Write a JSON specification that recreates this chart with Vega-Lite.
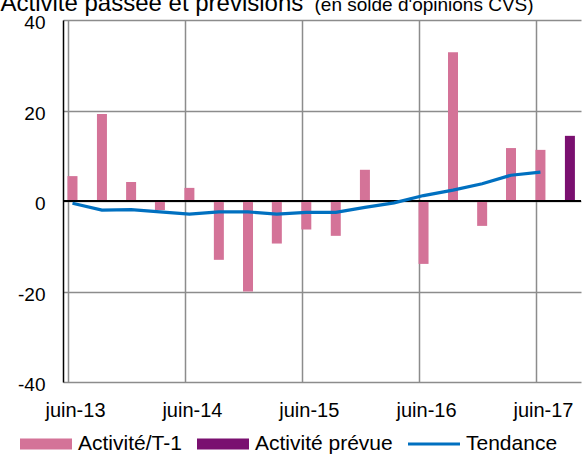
{
  "$schema": "https://vega.github.io/schema/vega-lite/v6.json",
  "width": 518,
  "height": 362,
  "autosize": "none",
  "padding": {"left": 63, "top": 20, "right": 5, "bottom": 74},
  "background": "white",
  "config": {"view": {"stroke": null}, "font": "Liberation Sans"},
  "data": {"values": [
    {"date": "2013-06-15", "serie": "Activité/T-1", "value": 5.5},
    {"date": "2013-09-15", "serie": "Activité/T-1", "value": 19.2},
    {"date": "2013-12-15", "serie": "Activité/T-1", "value": 4.2},
    {"date": "2014-03-15", "serie": "Activité/T-1", "value": -2.0},
    {"date": "2014-06-15", "serie": "Activité/T-1", "value": 2.9},
    {"date": "2014-09-15", "serie": "Activité/T-1", "value": -13.0},
    {"date": "2014-12-15", "serie": "Activité/T-1", "value": -20.0},
    {"date": "2015-03-15", "serie": "Activité/T-1", "value": -9.4},
    {"date": "2015-06-15", "serie": "Activité/T-1", "value": -6.3},
    {"date": "2015-09-15", "serie": "Activité/T-1", "value": -7.7},
    {"date": "2015-12-15", "serie": "Activité/T-1", "value": 6.9},
    {"date": "2016-03-15", "serie": "Activité/T-1", "value": 0.0},
    {"date": "2016-06-15", "serie": "Activité/T-1", "value": -13.9},
    {"date": "2016-09-15", "serie": "Activité/T-1", "value": 32.9},
    {"date": "2016-12-15", "serie": "Activité/T-1", "value": -5.5},
    {"date": "2017-03-15", "serie": "Activité/T-1", "value": 11.7},
    {"date": "2017-06-15", "serie": "Activité/T-1", "value": 11.3},
    {"date": "2017-09-15", "serie": "Activité prévue", "value": 14.4},
    {"date": "2013-06-15", "serie": "Tendance", "value": -0.5},
    {"date": "2013-09-15", "serie": "Tendance", "value": -2.0},
    {"date": "2013-12-15", "serie": "Tendance", "value": -1.9},
    {"date": "2014-03-15", "serie": "Tendance", "value": -2.4},
    {"date": "2014-06-15", "serie": "Tendance", "value": -2.9},
    {"date": "2014-09-15", "serie": "Tendance", "value": -2.4},
    {"date": "2014-12-15", "serie": "Tendance", "value": -2.4},
    {"date": "2015-03-15", "serie": "Tendance", "value": -2.9},
    {"date": "2015-06-15", "serie": "Tendance", "value": -2.5},
    {"date": "2015-09-15", "serie": "Tendance", "value": -2.5},
    {"date": "2015-12-15", "serie": "Tendance", "value": -1.4},
    {"date": "2016-03-15", "serie": "Tendance", "value": -0.4},
    {"date": "2016-06-15", "serie": "Tendance", "value": 1.2},
    {"date": "2016-09-15", "serie": "Tendance", "value": 2.4},
    {"date": "2016-12-15", "serie": "Tendance", "value": 3.8},
    {"date": "2017-03-15", "serie": "Tendance", "value": 5.7},
    {"date": "2017-06-15", "serie": "Tendance", "value": 6.4}
  ]},
  "encoding": {
    "x": {
      "field": "date", "type": "temporal",
      "scale": {"type": "utc", "domain": [{"year": 2013, "month": 6, "date": 1, "utc": true}, {"year": 2017, "month": 10, "date": 4, "utc": true}]},
      "axis": {
        "values": [
          {"year": 2013, "month": 6, "date": 1, "utc": true},
          {"year": 2014, "month": 6, "date": 1, "utc": true},
          {"year": 2015, "month": 6, "date": 1, "utc": true},
          {"year": 2016, "month": 6, "date": 1, "utc": true},
          {"year": 2017, "month": 6, "date": 1, "utc": true}
        ],
        "labelExpr": "'juin-' + utcFormat(datum.value, '%y')",
        "grid": true, "gridColor": "#8c8c8c", "gridWidth": 1.5,
        "domain": false, "ticks": false, "tickSize": 0,
        "labelFont": "Liberation Sans", "labelFontSize": 20, "labelColor": "#000",
        "labelPadding": 18, "labelOffset": 7, "labelFlush": false, "labelOverlap": false, "labelBound": false,
        "title": "(en solde d'opinions CVS)",
        "titleFont": "Liberation Sans", "titleFontSize": 19, "titleFontWeight": "normal", "titleColor": "#000",
        "titleAngle": 0, "titleAlign": "left", "titleBaseline": "alphabetic",
        "titleX": 251, "titleY": -372
      }
    },
    "y": {
      "field": "value", "type": "quantitative",
      "scale": {"domain": [-40, 40], "nice": false, "zero": false},
      "axis": {
        "values": [-40, -20, 0, 20, 40],
        "labelExpr": "datum.value < 0 ? '-' + abs(datum.value) : '' + datum.value",
        "grid": true, "gridColor": "#8c8c8c", "gridWidth": 1.5,
        "domain": true, "domainColor": "#000", "domainWidth": 1.5,
        "ticks": false, "tickSize": 0,
        "labelFont": "Liberation Sans", "labelFontSize": 19, "labelColor": "#000",
        "labelPadding": 18, "labelOffset": 2.5,
        "title": "Activité passée et prévisions",
        "titleFont": "Liberation Sans", "titleFontSize": 24, "titleFontWeight": "normal", "titleColor": "#000",
        "titleAngle": 0, "titleAlign": "left", "titleBaseline": "alphabetic",
        "titleX": -63, "titleY": -10
      }
    }
  },
  "layer": [
    {
      "transform": [{"filter": "datum.serie !== 'Tendance'"}],
      "mark": {"type": "bar", "size": 10},
      "encoding": {
        "color": {
          "field": "serie", "type": "nominal",
          "scale": {"domain": ["Activité/T-1", "Activité prévue", "Tendance"], "range": ["#d47398", "#7a1070", "#0070c0"]},
          "legend": {
            "orient": "none", "legendX": -43, "legendY": 398, "direction": "horizontal", "title": null,
            "padding": 0, "symbolSize": 2704, "symbolType": "M-1,-0.21H1V0.21H-1Z",
            "symbolStrokeWidth": 0, "symbolOpacity": 1,
            "labelFont": "Liberation Sans", "labelFontSize": 21, "labelColor": "#000", "labelOffset": 6,
            "columnPadding": 15, "labelLimit": 300,
            "encode": {"symbols": {"update": {
              "shape": {"signal": "datum.label === 'Tendance' ? 'M-1,-0.06H1V0.06H-1Z' : 'M-1,-0.21H1V0.21H-1Z'"},
              "fill": {"signal": "scale('color', datum.value)"},
              "stroke": {"value": "transparent"},
              "strokeWidth": {"value": 0},
              "opacity": {"value": 1}
            }}}
          }
        }
      }
    },
    {
      "mark": {"type": "rule", "color": "#000", "strokeWidth": 2},
      "encoding": {"y": {"datum": 0}, "x": null}
    },
    {
      "transform": [{"filter": "datum.serie === 'Tendance'"}],
      "mark": {"type": "line", "strokeWidth": 3.2, "interpolate": "linear"},
      "encoding": {"color": {"field": "serie", "type": "nominal"}}
    }
  ]
}
